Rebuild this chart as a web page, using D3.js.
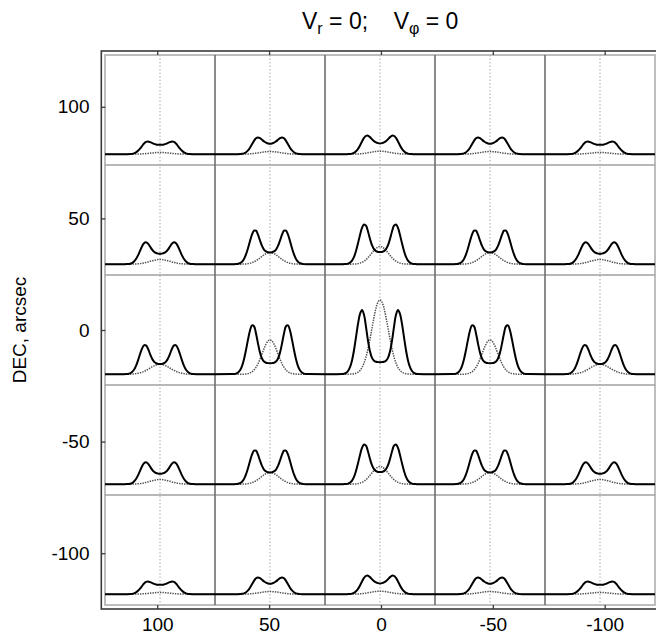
<!DOCTYPE html>
<html>
<head>
<meta charset="utf-8">
<script src="https://cdn.jsdelivr.net/npm/d3@7"></script>
<style>
  body { margin: 0; background: #fff; }
  svg { display: block; font-family: "Liberation Sans", Arial, Helvetica, sans-serif; }
</style>
</head>
<body>
<script>
// ---------------- data ----------------
const raValues  = [100, 50, 0, -50, -100];     // panel columns (RA, arcsec)
const decValues = [100, 50, 0, -50, -100];     // panel rows (DEC, arcsec)
const xTickValues = [100, 50, 0, -50, -100];
const yTickValues = [100, 50, 0, -50, -100];
const titleParts = ["V", "r", " = 0;    V", "\u03c6", " = 0"];
const yAxisTitle = "DEC, arcsec";

// velocity offsets from line centre (km/s) at which the half-profiles are read
const velocityGrid = [0,10,20,30,40,50,60,70,80,90,100,110,120,130,140,150,160,170,180,190];
const velocityHalfRange = 275;

// half-profiles (symmetric about line centre), intensity in arbitrary units
// |DEC| = 0
const solidDec0Ra0    = [12.0,12.1,12.4,13.5,16.4,22.8,33.5,47.3,59.4,64.3,60.4,50.3,37.0,24.0,13.8,7.0,3.2,1.3,0.4,0.1];
const dottedDec0Ra0   = [74.3,72.1,66.0,56.8,46.2,35.3,25.5,17.3,11.1,6.7,3.8,2.0,1.0,0.5,0.2,0.1,0,0,0,0];
const solidDec0Ra50   = [11.0,11.1,11.5,12.7,15.7,21.6,30.6,40.8,48.0,48.8,43.7,34.6,24.2,15.0,8.2,4.0,1.7,0.6,0.2,0.1];
const dottedDec0Ra50  = [34.3,33.2,30.1,25.5,20.3,15.1,10.5,6.9,4.2,2.4,1.3,0.6,0.3,0.1,0,0,0,0,0,0];
const solidDec0Ra100  = [10.1,10.3,11.0,12.6,15.8,20.4,25.5,28.8,28.9,25.5,20.0,13.8,8.4,4.5,2.2,0.9,0.3,0.1,0,0];
const dottedDec0Ra100 = [10.0,9.8,9.2,8.4,7.3,6.1,4.9,3.8,2.8,2.0,1.4,0.9,0.6,0.3,0.2,0.1,0,0,0,0];
// |DEC| = 50
const solidDec50Ra0    = [12.1,12.3,13.1,15.0,19.0,25.3,32.7,38.5,39.8,36.3,29.3,20.9,13.2,7.3,3.6,1.6,0.6,0.2,0.1,0];
const dottedDec50Ra0   = [17.7,17.2,15.8,13.8,11.4,8.9,6.5,4.6,3.0,1.9,1.1,0.6,0.3,0.2,0.1,0,0,0,0,0];
const solidDec50Ra50   = [11.8,12.0,12.8,14.7,18.3,23.7,29.6,33.5,33.5,29.6,23.2,16.0,9.8,5.3,2.5,1.1,0.4,0.1,0,0];
const dottedDec50Ra50  = [11.7,11.4,10.6,9.4,7.9,6.3,4.8,3.5,2.4,1.6,1.0,0.6,0.3,0.2,0.1,0,0,0,0,0];
const solidDec50Ra100  = [10.4,10.6,11.2,12.4,14.7,17.7,20.6,22.0,21.0,17.8,13.4,8.8,5.2,2.7,1.2,0.5,0.2,0.1,0,0];
const dottedDec50Ra100 = [4.7,4.6,4.3,3.9,3.4,2.9,2.3,1.8,1.3,0.9,0.6,0.4,0.3,0.2,0.1,0.1,0,0,0,0];
// |DEC| = 100
const solidDec100Ra0    = [10.8,11.1,11.8,13.1,15.0,17.1,18.5,18.4,16.3,12.7,8.8,5.4,2.9,1.4,0.6,0.2,0.1,0,0,0];
const dottedDec100Ra0   = [3.0,2.9,2.8,2.5,2.2,1.8,1.5,1.1,0.8,0.6,0.4,0.3,0.2,0.1,0.1,0,0,0,0,0];
const solidDec100Ra50   = [10.5,10.8,11.5,12.8,14.4,16.0,16.7,15.9,13.4,10.0,6.5,3.8,2.0,0.9,0.4,0.1,0,0,0,0];
const dottedDec100Ra50  = [2.7,2.6,2.5,2.3,2.0,1.6,1.3,1.0,0.8,0.5,0.4,0.2,0.2,0.1,0.1,0,0,0,0,0];
const solidDec100Ra100  = [9.4,9.5,9.8,10.4,11.3,12.1,12.7,12.4,10.7,8.2,5.6,3.4,1.8,0.8,0.3,0.1,0,0,0,0];
const dottedDec100Ra100 = [1.7,1.7,1.6,1.4,1.2,1.0,0.8,0.6,0.5,0.3,0.2,0.2,0.1,0.1,0,0,0,0,0,0];

// lookup by |DEC| and |RA| (the map is symmetric)
const profileTable = {
  "0|0": [solidDec0Ra0, dottedDec0Ra0],
  "0|50": [solidDec0Ra50, dottedDec0Ra50],
  "0|100": [solidDec0Ra100, dottedDec0Ra100],
  "50|0": [solidDec50Ra0, dottedDec50Ra0],
  "50|50": [solidDec50Ra50, dottedDec50Ra50],
  "50|100": [solidDec50Ra100, dottedDec50Ra100],
  "100|0": [solidDec100Ra0, dottedDec100Ra0],
  "100|50": [solidDec100Ra50, dottedDec100Ra50],
  "100|100": [solidDec100Ra100, dottedDec100Ra100]
};

// ---------------- layout ----------------
const W = 656, H = 641;
const svg = d3.select("body").append("svg").attr("width", W).attr("height", H);
svg.append("rect").attr("width", W).attr("height", H).attr("fill", "#fff");

// outer axis frame scales
const axisX = d3.scaleLinear().domain([125, -125]).range([101.3, 660.6]);
const axisY = d3.scaleLinear().domain([125, -125]).range([51, 609]);
// panel grid scales (inset)
const panelX = d3.scaleLinear().domain([125, -125]).range([105, 655]);
const panelY = d3.scaleLinear().domain([125, -125]).range([55, 605]);
const halfCell = 25;
const baselineOffsetDec = 20.1;

const g = svg.append("g");

// inner frame
g.append("rect")
  .attr("x", panelX(125)).attr("y", panelY(125))
  .attr("width", panelX(-125) - panelX(125)).attr("height", panelY(-125) - panelY(125))
  .attr("fill", "none").attr("stroke", "#a8a8a8").attr("stroke-width", 1.5);

// horizontal separators
const rowEdges = decValues.slice(0, -1).map(d => d - halfCell);
g.selectAll("line.hsep").data(rowEdges).join("line")
  .attr("x1", panelX(125)).attr("x2", panelX(-125))
  .attr("y1", d => panelY(d)).attr("y2", d => panelY(d))
  .attr("stroke", "#a0a0a0").attr("stroke-width", 1.5);

// vertical separators
const colEdges = raValues.slice(0, -1).map(d => d - halfCell);
g.selectAll("line.vsep").data(colEdges).join("line")
  .attr("y1", panelY(125)).attr("y2", panelY(-125))
  .attr("x1", d => panelX(d)).attr("x2", d => panelX(d))
  .attr("stroke", "#6e6e6e").attr("stroke-width", 1.6);

// vertical dotted centre lines
g.selectAll("line.vc").data(raValues).join("line")
  .attr("y1", panelY(125)).attr("y2", panelY(-125))
  .attr("x1", d => panelX(d)).attr("x2", d => panelX(d))
  .attr("stroke", "#aaaaaa").attr("stroke-width", 1)
  .attr("stroke-dasharray", "1.5,2");

// profiles
function fullProfile(half) {
  const pts = [{ v: -velocityHalfRange, i: 0 }];
  for (let k = velocityGrid.length - 1; k >= 1; k--) pts.push({ v: -velocityGrid[k], i: half[k] });
  for (let k = 0; k < velocityGrid.length; k++) pts.push({ v: velocityGrid[k], i: half[k] });
  pts.push({ v: velocityHalfRange, i: 0 });
  return pts;
}

decValues.forEach(dec => {
  raValues.forEach(ra => {
    const [solid, dotted] = profileTable[Math.abs(dec) + "|" + Math.abs(ra)];
    const vx = d3.scaleLinear().domain([-velocityHalfRange, velocityHalfRange])
      .range([panelX(ra + halfCell), panelX(ra - halfCell)]);
    const base = panelY(dec - baselineOffsetDec);
    const yi = d3.scaleLinear().domain([0, 100]).range([base, base - 100]);
    const line = d3.line().x(d => vx(d.v)).y(d => yi(d.i)).curve(d3.curveCatmullRom.alpha(0.5));
    g.append("path").attr("d", line(fullProfile(dotted)))
      .attr("fill", "none").attr("stroke", "#505050").attr("stroke-width", 1.5)
      .attr("stroke-dasharray", "1.4,1.1");
    g.append("path").attr("d", line(fullProfile(solid)))
      .attr("fill", "none").attr("stroke", "#000").attr("stroke-width", 2);
  });
});

// outer frame
svg.append("rect")
  .attr("x", axisX(125)).attr("y", axisY(125))
  .attr("width", axisX(-125) - axisX(125)).attr("height", axisY(-125) - axisY(125))
  .attr("fill", "none").attr("stroke", "#3a3a3a").attr("stroke-width", 1.6);

const fmt = d => String(d);
function styleAxis(sel) {
  sel.select(".domain").remove();
  sel.selectAll(".tick line").attr("stroke", "#3a3a3a").attr("stroke-width", 1.3);
  sel.selectAll(".tick text").attr("fill", "#000").style("font-size", "19px")
    .style("font-family", "'Liberation Sans', Arial, Helvetica, sans-serif");
}
svg.append("g").attr("transform", `translate(${axisX(125)},0)`)
  .call(d3.axisLeft(axisY).tickValues(yTickValues).tickFormat(fmt).tickSize(-4).tickSizeOuter(0).tickPadding(11.8))
  .call(styleAxis);
svg.append("g").attr("transform", `translate(${axisX(-125)},0)`)
  .call(d3.axisRight(axisY).tickValues(yTickValues).tickFormat("").tickSize(-4).tickSizeOuter(0))
  .call(styleAxis);
svg.append("g").attr("transform", `translate(0,${axisY(-125)})`)
  .call(d3.axisBottom(axisX).tickValues(xTickValues).tickFormat(fmt).tickSize(-4).tickSizeOuter(0).tickPadding(9))
  .call(styleAxis);
svg.append("g").attr("transform", `translate(0,${axisY(125)})`)
  .call(d3.axisTop(axisX).tickValues(xTickValues).tickFormat("").tickSize(-4).tickSizeOuter(0))
  .call(styleAxis);

// y axis title
svg.append("text")
  .attr("transform", "translate(25.5,330) rotate(-90)")
  .attr("text-anchor", "middle").style("font-size", "19px").attr("fill", "#000")
  .text(yAxisTitle);

// title
const title = svg.append("text").attr("x", 302).attr("y", 28.5)
  .style("font-size", "23px").style("white-space", "pre").attr("fill", "#000");
title.append("tspan").text(titleParts[0]);
title.append("tspan").attr("dy", 5).style("font-size", "16px").text(titleParts[1]);
title.append("tspan").attr("dy", -5).text(titleParts[2]);
title.append("tspan").attr("dy", 5).style("font-size", "16px").text(titleParts[3]);
title.append("tspan").attr("dy", -5).text(titleParts[4]);
</script>
</body>
</html>
